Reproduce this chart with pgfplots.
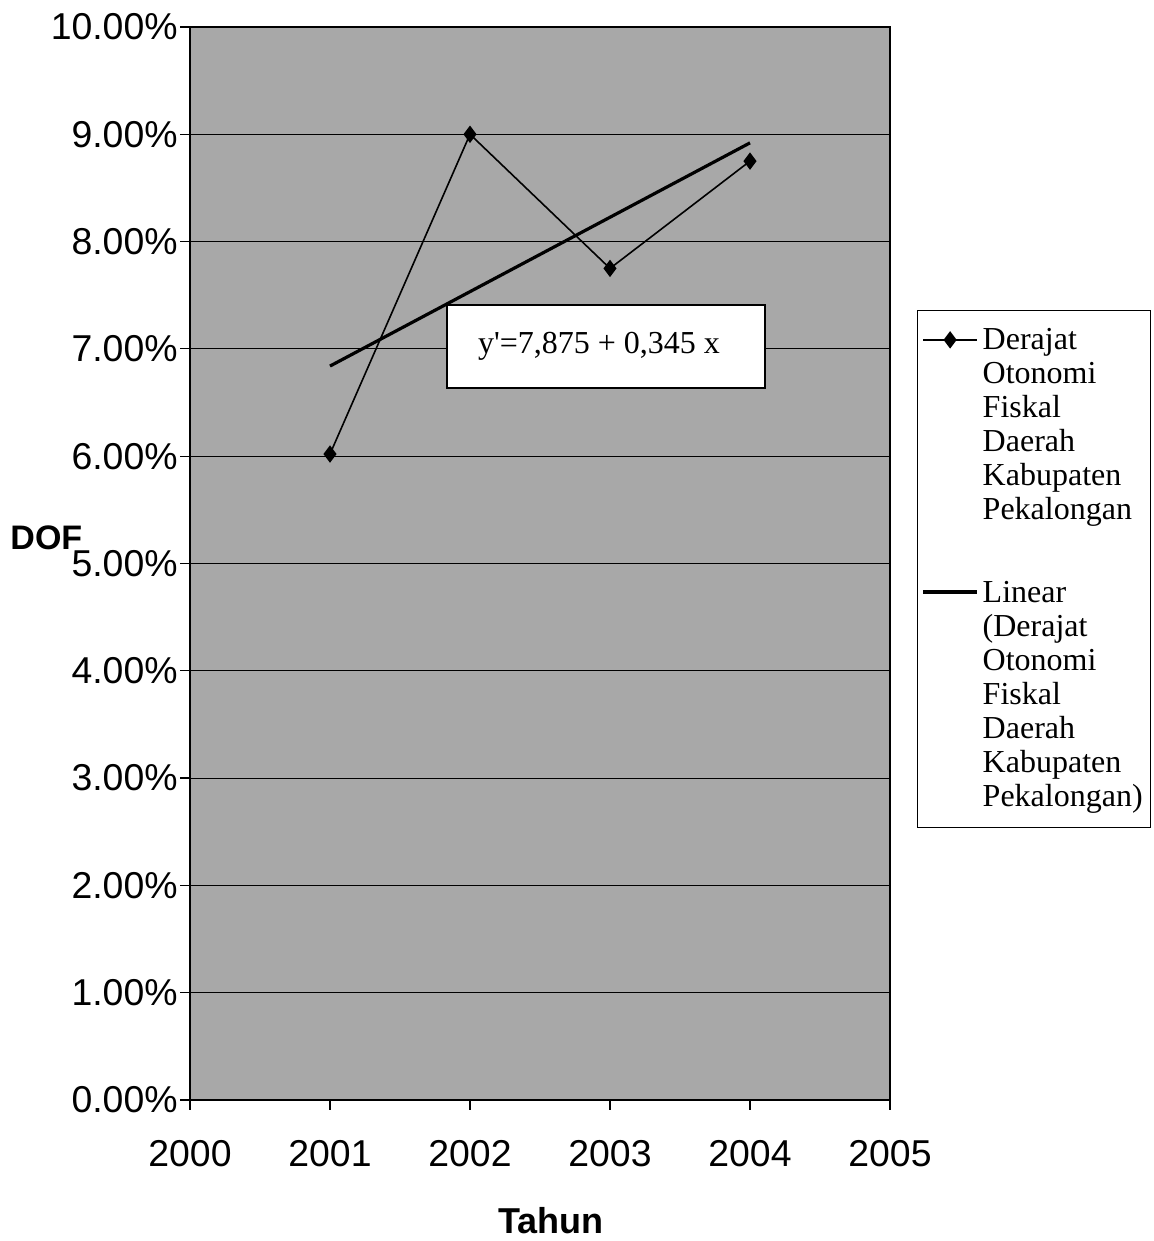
\documentclass[border=0pt]{standalone}
\usepackage{pgfplots}
\pgfplotsset{compat=1.18}
\usepackage{fontspec}
\setmainfont{Liberation Sans}
\newfontfamily\timesfont{Liberation Serif}
\begin{document}
\begin{tikzpicture}
\begin{axis}[
  scale only axis,
  width=350pt, height=536.5pt,
  xmin=2000, xmax=2005, ymin=0, ymax=10,
  axis background/.style={fill=black!34},
  xtick={2000,2001,2002,2003,2004,2005},
  xticklabels={2000,2001,2002,2003,2004,2005},
  ytick={0,1,2,3,4,5,6,7,8,9,10},
  yticklabels={0.00\%,1.00\%,2.00\%,3.00\%,4.00\%,5.00\%,6.00\%,7.00\%,8.00\%,9.00\%,10.00\%},
  tick label style={font=\fontsize{18.7pt}{22pt}\selectfont},
  x tick label style={anchor=north, inner sep=0pt, yshift=-15pt},
  y tick label style={anchor=east, inner sep=0pt, xshift=-1pt},
  xtick pos=left, ytick pos=left,
  xtick align=outside, ytick align=outside,
  major tick length=5pt,
  tick style={black, line width=0.6pt},
  ymajorgrids,
  grid style={black, line width=0.5pt},
  axis line style={black, line width=0.7pt},
  xlabel={Tahun},
  xlabel style={font=\bfseries\fontsize{18pt}{21pt}\selectfont, at={(axis description cs:0.516,-0.1)}, anchor=north, inner sep=0pt},
  ylabel={DOF},
  ylabel style={rotate=-90, font=\bfseries\fontsize{17pt}{20pt}\selectfont, at={(axis description cs:-0.257,0.524)}, anchor=west, inner sep=0pt},
  legend style={at={(axis description cs:1.0386,0.736)}, anchor=north west,
    font=\timesfont\fontsize{16pt}{17pt}\selectfont,
    cells={align=left, anchor=west},
    draw=black, line width=0.5pt, fill=white,
    inner xsep=2pt, inner ysep=7pt, row sep=25pt},
  legend cell align=left,
]
\addplot[black, line width=0.8pt, mark=diamond*, mark size=3.7pt, mark options={solid, fill=black},
  legend image code/.code={\draw[black, line width=0.8pt] (0pt,43pt) -- (27pt,43pt);
    \path plot[mark=diamond*, mark size=3.7pt, mark options={solid, fill=black}] coordinates {(13.5pt,43pt)};}]
  coordinates {(2001,6.02) (2002,9.00) (2003,7.75) (2004,8.75)};
\addlegendentry{Derajat\\Otonomi\\Fiskal\\Daerah\\Kabupaten\\Pekalongan}
\addplot[black, line width=1.6pt, no marks,
  legend image code/.code={\draw[black, line width=1.6pt] (0pt,51.5pt) -- (27pt,51.5pt);}]
  coordinates {(2001,6.84) (2004,8.92)};
\addlegendentry{Linear\\(Derajat\\Otonomi\\Fiskal\\Daerah\\Kabupaten\\Pekalongan)}
\node[draw=black, line width=1.2pt, fill=white, minimum width=159pt, minimum height=41.5pt, inner sep=0pt, font=\timesfont\fontsize{16pt}{17pt}\selectfont] at (axis cs:2002.971,7.02) {\hspace{-7pt}y'=7,875 + 0,345 x};
\end{axis}
\pgfresetboundingbox
\path[use as bounding box] (-95pt,-70.5pt) rectangle (482pt,550pt);
\end{tikzpicture}
\end{document}
